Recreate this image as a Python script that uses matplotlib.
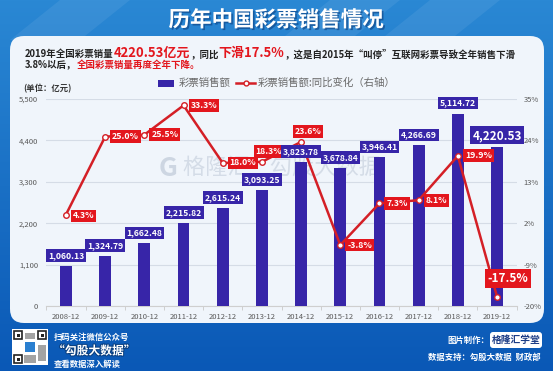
import numpy as np
import matplotlib.pyplot as plt
import matplotlib.patheffects as pe
from matplotlib.patches import FancyBboxPatch, Rectangle
from matplotlib.lines import Line2D
from matplotlib.ticker import FuncFormatter

plt.rcParams['font.family'] = ['Noto Sans CJK SC', 'DejaVu Sans']

# === data ===
years = ['2008-12', '2009-12', '2010-12', '2011-12', '2012-12', '2013-12',
         '2014-12', '2015-12', '2016-12', '2017-12', '2018-12', '2019-12']
sales = [1060.13, 1324.79, 1662.48, 2215.82, 2615.24, 3093.25,
         3823.78, 3678.84, 3946.41, 4266.69, 5114.72, 4220.53]
yoy = [4.3, 25.0, 25.5, 33.3, 18.0, 18.3, 23.6, -3.8, 7.3, 8.1, 19.9, -17.5]
left_ticks = [0, 1100, 2200, 3300, 4400, 5500]
right_ticks = [-20, -9, 2, 13, 24, 35]

BAR = '#3725a8'
RED = '#e3161d'
LINE = '#d41f26'
GREY = '#5a5a5a'

W, H = 553, 371
fig = plt.figure(figsize=(W / 100, H / 100), dpi=100)

# === background, drawn in pixel coordinates ===
bg = fig.add_axes([0, 0, 1, 1])
bg.set_xlim(0, W)
bg.set_ylim(H, 0)
bg.axis('off')

t = np.linspace(0, 1, H)[:, None, None]
top = np.array([0x2a, 0x88, 0xd4]) / 255
bottom = np.array([0x0a, 0x58, 0xb6]) / 255
img = top + (bottom - top) * t
img = np.repeat(img, W, axis=1)
bg.imshow(img, extent=(0, W, H, 0), aspect='auto', zorder=0)

# light diagonal stripes in the header
for x0 in [60, 330, 430]:
    bg.fill([x0, x0 + 70, x0 + 20, x0 - 50], [0, 0, 40, 40],
            color='white', alpha=0.07, lw=0, zorder=1)

panel = FancyBboxPatch((10, 36), 534, 287,
                       boxstyle='round,pad=0,rounding_size=14',
                       fc='#f0f5fb', ec='none', zorder=2)
bg.add_patch(panel)

bg.text(276, 20, '历年中国彩票销售情况', ha='center', va='center',
        fontsize=15.5, weight='bold', color='white', zorder=3,
        path_effects=[pe.withSimplePatchShadow(offset=(1.2, -1.2),
                                               shadow_rgbFace='#0b3f80',
                                               alpha=0.6)])

# subtitle with mixed runs
renderer = fig.canvas.get_renderer()


def runs(x, y, parts):
    for text, size, color in parts:
        tt = bg.text(x, y, text, fontsize=size, color=color, weight='bold',
                     va='baseline', ha='left', zorder=3)
        x += tt.get_window_extent(renderer).width


runs(25, 57, [('2019年全国彩票销量', 6.8, '#222222'),
              ('4220.53亿元', 9.4, RED),
              ('，同比', 6.8, '#222222'),
              ('下滑17.5%', 9.4, RED),
              ('，这是自2015年“叫停”互联网彩票导致全年销售下滑', 6.8, '#222222')])
runs(25, 67.5, [('3.8%以后，', 6.8, '#222222'),
                ('全国彩票销量再度全年下降。', 6.8, RED)])

# legend
bg.add_patch(Rectangle((158, 80), 16, 6.5, fc=BAR, ec='none', zorder=3))
bg.text(179, 83, '彩票销售额', va='center', fontsize=7.5, color='#6a6a6a', zorder=3)
bg.add_line(Line2D([236, 255], [83, 83], color=LINE, lw=1.8, zorder=3))
bg.add_line(Line2D([245.5], [83], marker='o', ms=3.5, mfc='white', mec=LINE,
                   mew=1, zorder=4))
bg.text(258, 83, '彩票销售额:同比变化（右轴）', va='center', fontsize=7.5,
        color='#6a6a6a', zorder=3)

bg.text(23, 89, '(单位：亿元)', va='center', fontsize=6, weight='bold',
        color='#333333', zorder=3)

# watermark
bg.text(168, 168, 'G', ha='center', va='center', fontsize=19, weight='bold',
        color='#cdd6e2', zorder=3)
bg.text(282, 168, '格隆汇    勾股大数据', ha='center', va='center', fontsize=16,
        color='#cdd6e2', alpha=0.8, zorder=3)

# footer
bg.add_patch(Rectangle((12, 329), 36, 36, fc='white', ec='none', zorder=3))
for qx, qy in [(14, 331), (38, 331), (14, 355)]:
    bg.add_patch(Rectangle((qx, qy), 8, 8, fc='none', ec='#222222', lw=1.2, zorder=4))
    bg.add_patch(Rectangle((qx + 2.5, qy + 2.5), 3, 3, fc='#222222', ec='none', zorder=4))
bg.add_patch(Rectangle((25, 342), 10, 10, fc='#2a7fd0', ec='none', zorder=4))
bg.add_patch(Rectangle((25, 333), 10, 6, fc='#666666', ec='none', zorder=4, alpha=0.6))
bg.add_patch(Rectangle((38, 345), 8, 16, fc='#666666', ec='none', zorder=4, alpha=0.6))
bg.add_patch(Rectangle((24, 355), 12, 8, fc='#666666', ec='none', zorder=4, alpha=0.6))

bg.text(54, 337, '扫码关注微信公众号', va='center', fontsize=6, weight='bold',
        color='white', zorder=3)
bg.text(53, 351, '“勾股大数据”', va='center', fontsize=8.5, weight='bold',
        color='white', zorder=3,
        path_effects=[pe.withStroke(linewidth=1.5, foreground='#0a3f80')])
bg.text(54, 364, '查看数据深入解读', va='center', fontsize=6, weight='bold',
        color='white', zorder=3)

bg.text(489, 340, '图片制作：', ha='right', va='center', fontsize=6,
        weight='bold', color='white', zorder=3)
bg.add_patch(FancyBboxPatch((490, 332), 52, 16,
                            boxstyle='round,pad=0,rounding_size=3',
                            fc='white', ec='none', zorder=3))
bg.text(516, 339.5, '格隆汇学堂', ha='center', va='center', fontsize=7,
        weight='bold', color='#1d3d86', zorder=4)
bg.text(541, 357, '数据支持：勾股大数据  财政部', ha='right', va='center',
        fontsize=6, weight='bold', color='white', zorder=3)

# === main chart ===
ax = fig.add_axes([46.4 / W, 65 / H, 470.2 / W, 207 / H])
ax.patch.set_alpha(0)
x = np.arange(len(years))
ax.bar(x, sales, width=0.3, color=BAR, zorder=3)
ax.set_xlim(-0.5, len(years) - 0.5)
ax.set_ylim(0, 5500)
ax.set_yticks(left_ticks)
ax.yaxis.set_major_formatter(FuncFormatter(lambda v, p: f'{int(v):,}'))
ax.yaxis.grid(True, color='#d5dce6', lw=0.8)
ax.set_axisbelow(True)
ax.set_xticks(x, years)
ax.set_xticks(np.arange(-0.5, len(years), 1), minor=True)
ax.tick_params(axis='x', which='major', length=0, labelsize=5.5,
               labelcolor=GREY, pad=5)
ax.tick_params(axis='x', which='minor', length=3, color='#c8c8c8')
ax.tick_params(axis='y', length=0, labelsize=5.5, labelcolor=GREY, pad=6)
for s in ['top', 'right', 'left']:
    ax.spines[s].set_visible(False)
ax.spines['bottom'].set_color('#cfcfcf')

ax2 = ax.twinx()
ax2.set_ylim(-20, 35)
ax2.set_yticks(right_ticks)
ax2.yaxis.set_major_formatter(FuncFormatter(lambda v, p: f'{int(v)}%'))
ax2.tick_params(axis='y', length=0, labelsize=5.5, labelcolor=GREY, pad=5)
for s in ax2.spines.values():
    s.set_visible(False)
ax2.plot(x, yoy, color=LINE, lw=1.8, marker='o', ms=4, mfc='white',
         mec=LINE, mew=1, zorder=4)

# line labels: (ha, dx, dy) in points
yoy_pos = [('left', 5, -1), ('left', 5, 0), ('left', 5, 0), ('left', 5, 0),
           ('left', 5, 0), ('center', 5, 7.5), ('center', 5, 7.5),
           ('left', 5, 0), ('left', 5, 0), ('left', 5, 0), ('left', 5, 0),
           ('center', 8, 13)]
for i, (v, (ha, dx, dy)) in enumerate(zip(yoy, yoy_pos)):
    big = i == len(yoy) - 1
    ax2.annotate(f'{v:.1f}%', (i, v), xytext=(dx, dy), textcoords='offset points',
                 ha=ha, va='center', fontsize=8.5 if big else 6.3,
                 color='white', weight='bold', zorder=6,
                 bbox=dict(boxstyle='square,pad=0.22', fc=RED, ec='none'))

# bar labels on top
for i, v in enumerate(sales):
    big = i == len(sales) - 1
    ax2.annotate(f'{v:,.2f}', (i, v), xycoords=ax.transData,
                 xytext=(0, 8.5 if big else 7.5), textcoords='offset points',
                 ha='center', va='center', fontsize=8.5 if big else 6.2,
                 color='white', weight='bold', zorder=7,
                 bbox=dict(boxstyle='square,pad=0.22', fc=BAR, ec='none'))

fig.savefig('out.png', dpi=100)
